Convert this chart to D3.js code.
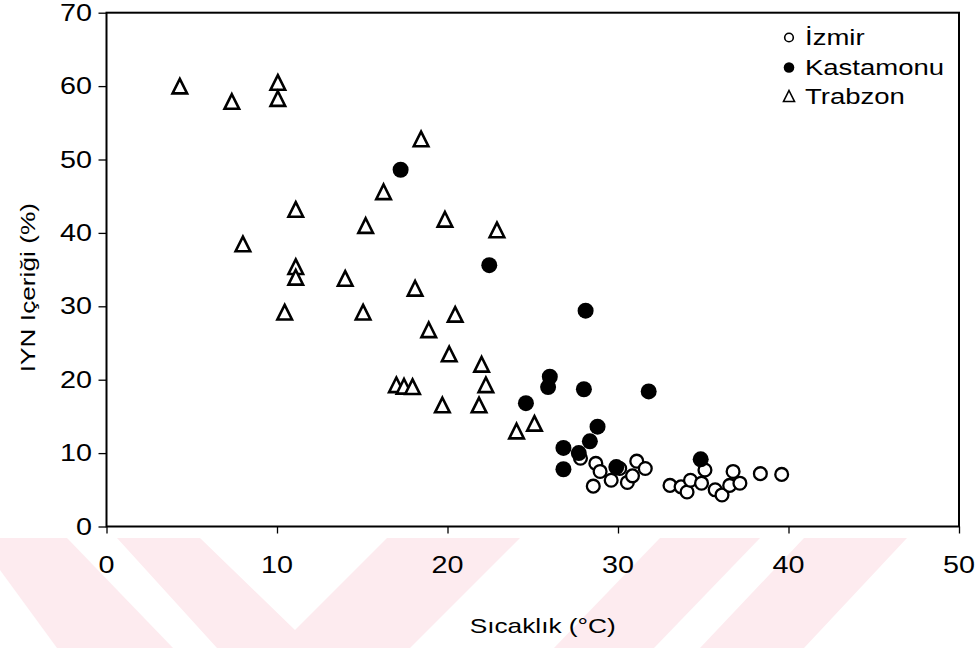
<!DOCTYPE html>
<html>
<head>
<meta charset="utf-8">
<script src="https://cdn.jsdelivr.net/npm/d3@7"></script>
<style>
  body { margin: 0; background: #fff; }
  svg { display: block; }
  text { font-family: "Liberation Sans", Arial, Helvetica, sans-serif; fill: #000; }
</style>
</head>
<body>
<svg id="chart" width="977" height="648"></svg>
<script>
// Temperature (°C) vs. IYN content (%) per sampling region
const izmir = [
  [28.7, 8.6], [28.95, 7.5], [28.55, 5.5], [29.6, 6.3], [30.55, 6.0], [30.85, 6.9],
  [31.1, 8.9], [31.6, 7.9], [30.1, 7.9], [27.8, 9.3], [35.1, 7.7], [33.05, 5.6],
  [33.7, 5.4], [34.05, 4.7], [34.25, 6.3], [34.9, 5.9], [35.7, 5.0], [36.1, 4.3],
  [36.75, 7.5], [36.55, 5.6], [37.15, 5.9], [38.35, 7.2], [39.6, 7.1]
];
const kastamonu = [
  [17.25, 48.6], [22.45, 35.6], [28.1, 29.4], [26.0, 20.4], [25.9, 19.0], [28.0, 18.7],
  [31.8, 18.4], [24.6, 16.8], [28.8, 13.6], [28.35, 11.6], [26.8, 10.7], [27.7, 10.0],
  [26.8, 7.8], [29.9, 8.1], [34.85, 9.15]
];
const trabzon = [
  [4.3, 60.0], [7.35, 57.9], [10.05, 60.5], [10.05, 58.3], [18.45, 52.8], [16.25, 45.6],
  [11.1, 43.2], [15.2, 41.0], [19.85, 41.85], [22.9, 40.4], [8.0, 38.5], [11.1, 35.4],
  [11.1, 33.95], [14.0, 33.8], [18.1, 32.45], [10.45, 29.2], [15.05, 29.2], [20.45, 28.9],
  [18.9, 26.8], [20.1, 23.5], [22.0, 22.1], [22.25, 19.3], [17.0, 19.3], [17.45, 19.1],
  [17.95, 19.05], [19.7, 16.55], [21.85, 16.55], [24.05, 13.0], [25.1, 14.05]
];

const seriesNames = ["İzmir", "Kastamonu", "Trabzon"];
const xTicks = [0, 10, 20, 30, 40, 50];
const yTicks = [0, 10, 20, 30, 40, 50, 60, 70];
const xTitle = "Sıcaklık (°C)";
const yTitle = "IYN Içeriği (%)";

const svg = d3.select("#chart");
const plot = { left: 106.5, right: 959, top: 12.7, bottom: 526.5 };
const stretch = 1.25;   // glyphs are drawn slightly wide

const x = d3.scaleLinear().domain([0, 50]).range([plot.left, plot.right]);
const y = d3.scaleLinear().domain([0, 70]).range([plot.bottom, plot.top]);

// pale background emblem below the axis
const pink = "#fdebef";
const emblem = [
  [[0, 538], [67, 538], [173, 648], [57, 648], [0, 570]],
  [[117, 538], [200, 538], [295, 630], [387, 538], [520, 538], [410, 648], [217, 648]],
  [[660, 538], [760, 538], [654, 648], [554, 648]],
  [[804, 538], [907, 538], [804, 648], [700, 648]]
];
svg.append("g").selectAll("polygon").data(emblem).join("polygon")
  .attr("points", d => d.map(p => p.join(",")).join(" "))
  .attr("fill", pink);

// helper for stretched text
function label(parent, tx, ty, str, size, anchor, rot) {
  const g = parent.append("g")
    .attr("transform", `translate(${tx},${ty})` + (rot ? ` rotate(${rot})` : ""));
  g.append("text")
    .attr("transform", `scale(${stretch},1)`)
    .attr("text-anchor", anchor)
    .attr("font-size", size)
    .text(str);
  return g;
}

// axes ticks
const axX = svg.append("g")
  .attr("transform", `translate(0,${plot.bottom})`)
  .call(d3.axisBottom(x).tickValues(xTicks).tickSize(7).tickFormat(""));
const axY = svg.append("g")
  .attr("transform", `translate(${plot.left},0)`)
  .call(d3.axisLeft(y).tickValues(yTicks).tickSize(8).tickFormat(""));
[axX, axY].forEach(a => {
  a.select(".domain").remove();
  a.selectAll("line").attr("stroke", "#000").attr("stroke-width", 1.3);
});

// tick labels
const tl = svg.append("g");
xTicks.forEach(v => label(tl, x(v), 573, String(v), 23, "middle"));
yTicks.forEach(v => label(tl, 92, y(v) + 8, String(v), 23, "end"));

// plot frame
svg.append("rect")
  .attr("x", plot.left).attr("y", plot.top)
  .attr("width", plot.right - plot.left).attr("height", plot.bottom - plot.top)
  .attr("fill", "none").attr("stroke", "#000").attr("stroke-width", 2);

// axis titles
label(svg, (plot.left + plot.right) / 2 + 10, 633, xTitle, 21, "middle");
label(svg, 35, (plot.top + plot.bottom) / 2 + 18, yTitle, 21, "middle", -90);

// markers
const tri = s => `M0,${-s}L${s},${s}L${-s},${s}Z`;

const marks = svg.append("g");
marks.append("g").selectAll("circle").data(izmir).join("circle")
  .attr("cx", d => x(d[0])).attr("cy", d => y(d[1]))
  .attr("r", 6.4).attr("fill", "#fff").attr("stroke", "#000").attr("stroke-width", 2.3);
marks.append("g").selectAll("circle").data(kastamonu).join("circle")
  .attr("cx", d => x(d[0])).attr("cy", d => y(d[1]))
  .attr("r", 8).attr("fill", "#000");
marks.append("g").selectAll("path").data(trabzon).join("path")
  .attr("transform", d => `translate(${x(d[0])},${y(d[1])})`)
  .attr("d", tri(7.3))
  .attr("fill", "#fff").attr("stroke", "#000").attr("stroke-width", 2.6)
  .attr("stroke-linejoin", "miter");

// legend
const lg = svg.append("g");
const legendRows = [37.5, 67.5, 96];
lg.append("circle").attr("cx", 789).attr("cy", legendRows[0]).attr("r", 4.3)
  .attr("fill", "#fff").attr("stroke", "#000").attr("stroke-width", 1.6);
lg.append("circle").attr("cx", 789).attr("cy", legendRows[1]).attr("r", 5.3)
  .attr("fill", "#000");
lg.append("path").attr("transform", `translate(789,${legendRows[2]})`)
  .attr("d", tri(5.5)).attr("fill", "#fff").attr("stroke", "#000").attr("stroke-width", 1.6);
seriesNames.forEach((n, i) => label(lg, 805, legendRows[i] + 7.8, n, 22, "start"));
</script>
</body>
</html>
